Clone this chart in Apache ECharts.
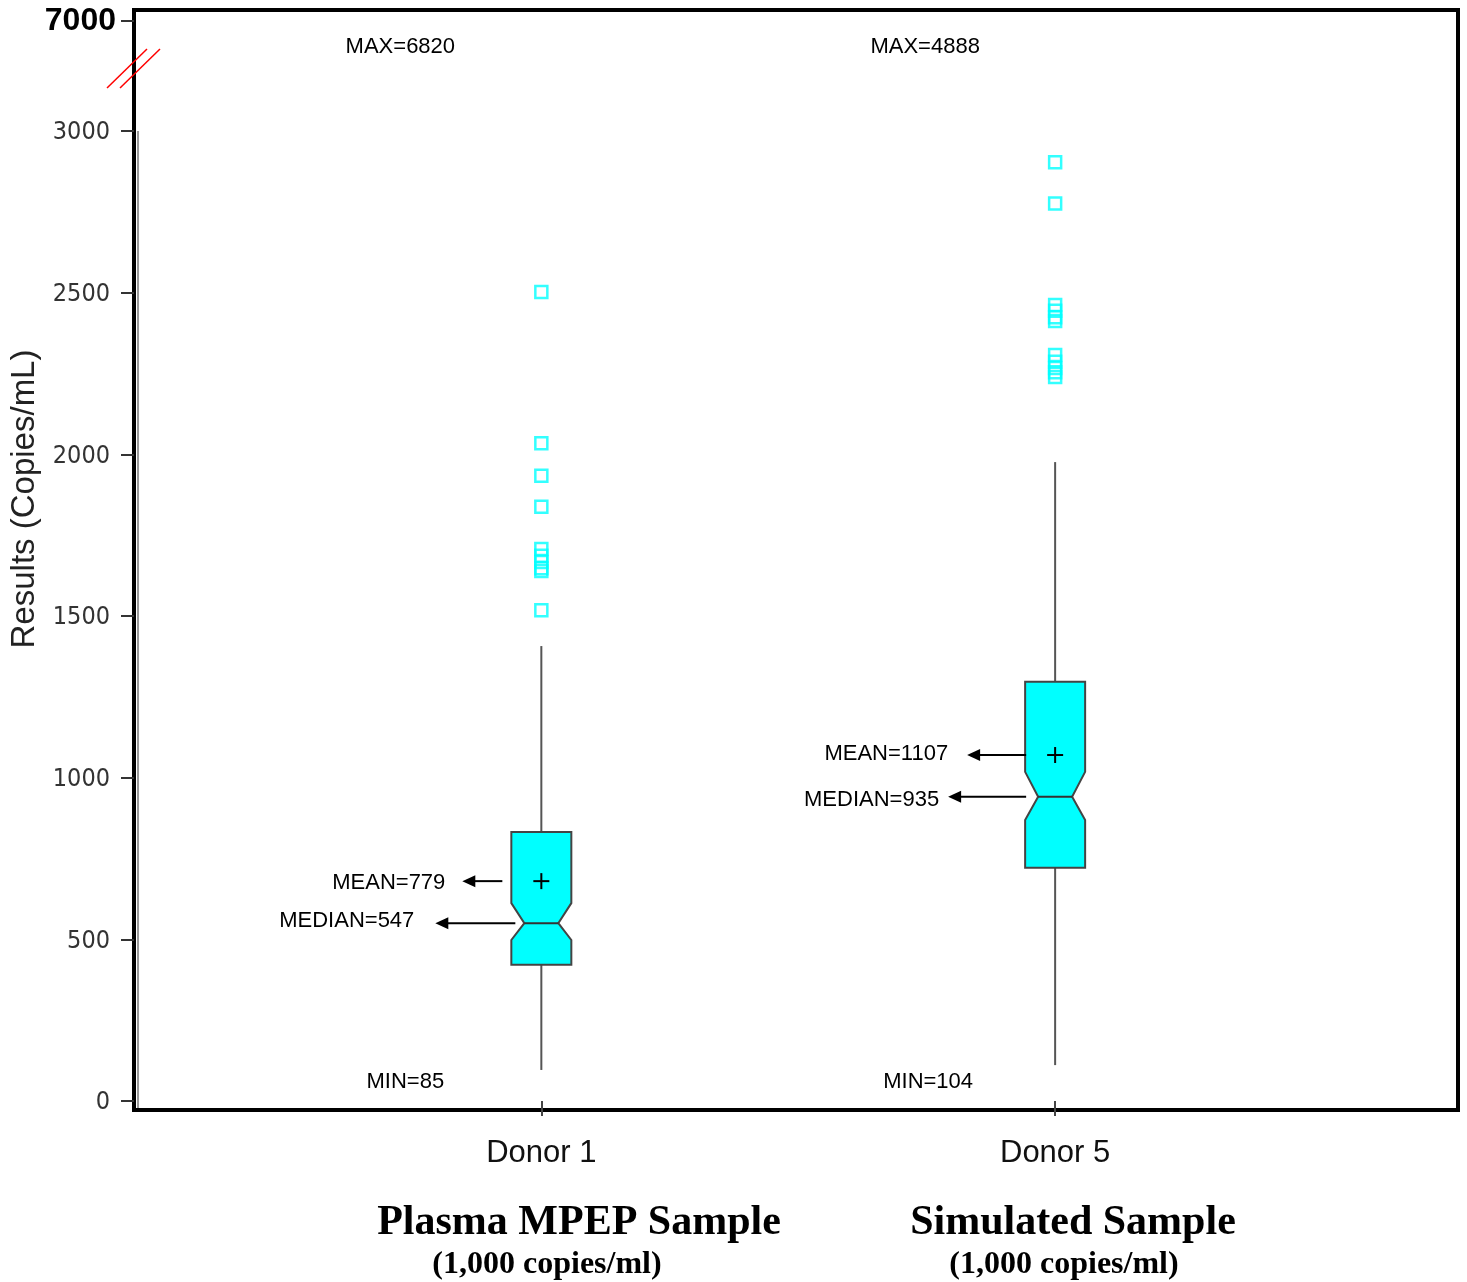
<!DOCTYPE html>
<html><head><meta charset="utf-8">
<script src="https://cdn.jsdelivr.net/npm/echarts@6/dist/echarts.min.js"></script>
<style>html,body{margin:0;padding:0;background:#fff}#c{width:1467px;height:1282px}</style>
</head><body><div id="c"></div>
<script>
// ---- data ----
const categories = ['Donor 1', 'Donor 5'];
const categoryPos = [1, 2];
const whiskerLow = [96, 111];
const q1 = [421, 721];
const median = [550, 941];
const q3 = [832, 1297];
const whiskerHigh = [1407, 1976];
const notchLow = [498, 869];
const notchHigh = [612, 1018];
const meanMark = [680, 1070];
const outliersDonor1 = [2502, 2034, 1934, 1838, 1707, 1686, 1667, 1648, 1639, 1518];
const outliersDonor5 = [2903, 2776, 2462, 2444, 2424, 2412, 2307, 2286, 2267, 2254, 2239];
const meanLabels = ['MEAN=779', 'MEAN=1107'];
const medianLabels = ['MEDIAN=547', 'MEDIAN=935'];
const maxLabels = ['MAX=6820', 'MAX=4888'];
const minLabels = ['MIN=85', 'MIN=104'];
const yTicks = [0, 500, 1000, 1500, 2000, 2500, 3000];
const breakTickValue = 3340;
const breakTickLabel = '7000';
const sampleTitles = ['Plasma MPEP Sample', 'Simulated Sample'];
const sampleSubtitles = ['(1,000 copies/ml)', '(1,000 copies/ml)'];
const yAxisTitle = 'Results (Copies/mL)';

// ---- layout (pixels / styles) ----
const annot = [
  {maxDx: -141, minDx: -136, meanStart: -39, meanTip: -79, meanGap: 17, meanDy: 2,
   medStart: -26, medTip: -106, medGap: 21, medDy: -2},
  {maxDx: -130, minDx: -127, meanStart: -29, meanTip: -88, meanGap: 19, meanDy: -1,
   medStart: -29, medTip: -107, medGap: 9, medDy: 3}
];
const annotFont = '22px "Liberation Sans", Arial, sans-serif';

const boxData = categoryPos.map((x, i) => [x, whiskerLow[i], q1[i], median[i], q3[i], whiskerHigh[i], notchLow[i], notchHigh[i], meanMark[i]]);
const outlierData = outliersDonor1.map(v => [categoryPos[0], v]).concat(outliersDonor5.map(v => [categoryPos[1], v]));

function arrow(tipX, startX, y) {
  return [
    {type: 'line', shape: {x1: startX, y1: y, x2: tipX + 10, y2: y}, style: {stroke: '#000', lineWidth: 2}},
    {type: 'polygon', shape: {points: [[tipX, y], [tipX + 13, y - 6], [tipX + 13, y + 6]]}, style: {fill: '#000'}}
  ];
}

function renderBox(params, api) {
  const i = params.dataIndex;
  const x = api.value(0);
  const py = v => api.coord([x, v])[1];
  const cx = api.coord([x, 0])[0];
  const yW0 = py(api.value(1)), yQ1 = py(api.value(2)), yMed = py(api.value(3)),
        yQ3 = py(api.value(4)), yW1 = py(api.value(5)), yN0 = py(api.value(6)),
        yN1 = py(api.value(7)), yMean = py(api.value(8));
  const hw = 30, ins = 13;
  const L = cx - hw, R = cx + hw;
  const a = annot[i];
  const children = [
    {type: 'line', shape: {x1: cx, y1: yQ3, x2: cx, y2: yW1}, style: {stroke: '#555', lineWidth: 2}},
    {type: 'line', shape: {x1: cx, y1: yQ1, x2: cx, y2: yW0}, style: {stroke: '#555', lineWidth: 2}},
    {type: 'polygon', shape: {points: [
      [L, yQ3], [R, yQ3], [R, yN1], [R - ins, yMed], [R, yN0], [R, yQ1],
      [L, yQ1], [L, yN0], [L + ins, yMed], [L, yN1]]},
      style: {fill: '#00FFFF', stroke: '#444', lineWidth: 2}},
    {type: 'line', shape: {x1: L + ins, y1: yMed, x2: R - ins, y2: yMed}, style: {stroke: '#333', lineWidth: 2}},
    {type: 'line', shape: {x1: cx - 8, y1: yMean, x2: cx + 8, y2: yMean}, style: {stroke: '#000', lineWidth: 2}},
    {type: 'line', shape: {x1: cx, y1: yMean - 8, x2: cx, y2: yMean + 8}, style: {stroke: '#000', lineWidth: 2}}
  ];
  children.push(...arrow(cx + a.meanTip, cx + a.meanStart, yMean));
  children.push(...arrow(cx + a.medTip, cx + a.medStart, yMed));
  children.push({type: 'text', style: {text: meanLabels[i], x: cx + a.meanTip - a.meanGap, y: yMean + a.meanDy,
    align: 'right', verticalAlign: 'middle', font: annotFont, fill: '#000'}});
  children.push({type: 'text', style: {text: medianLabels[i], x: cx + a.medTip - a.medGap, y: yMed + a.medDy,
    align: 'right', verticalAlign: 'middle', font: annotFont, fill: '#000'}});
  children.push({type: 'text', style: {text: maxLabels[i], x: cx + a.maxDx, y: py(3260),
    align: 'center', verticalAlign: 'middle', font: annotFont, fill: '#000'}});
  children.push({type: 'text', style: {text: minLabels[i], x: cx + a.minDx, y: py(60),
    align: 'center', verticalAlign: 'middle', font: annotFont, fill: '#000'}});
  return {type: 'group', children};
}

const chart = echarts.init(document.getElementById('c'), null, {renderer: 'canvas'});
const yLabelValues = yTicks.concat([breakTickValue]);
chart.setOption({
  animation: false,
  backgroundColor: '#fff',
  grid: {left: 134, right: 9, top: 10, bottom: 172, show: true, borderColor: '#000', borderWidth: 4, backgroundColor: 'transparent'},
  xAxis: {
    type: 'value', min: 0.2072, max: 2.7841,
    axisLine: {show: false},
    splitLine: {show: false},
    axisTick: {show: true, customValues: categoryPos, length: 15, lineStyle: {color: '#444', width: 2}},
    axisLabel: {customValues: categoryPos, margin: 28,
      formatter: v => categories[categoryPos.indexOf(Math.round(v))] || '',
      fontFamily: '"Liberation Sans", Arial, sans-serif', fontSize: 31, color: '#111'}
  },
  yAxis: {
    type: 'value', min: -27.84, max: 3374.2,
    axisLine: {show: false},
    splitLine: {show: false},
    axisTick: {show: true, customValues: yLabelValues, length: 13, lineStyle: {color: '#333', width: 2}},
    axisLabel: {customValues: yLabelValues, margin: 18,
      formatter: v => v > 3100 ? '{b|' + breakTickLabel + '}' : '{n|' + Math.round(v) + '}',
      rich: {
        n: {fontFamily: '"Liberation Sans Narrow", "Arial Narrow", "DejaVu Sans Condensed", sans-serif', fontSize: 25, color: '#333', padding: [4, 6, 0, 0]},
        b: {fontFamily: '"Liberation Sans", Arial, sans-serif', fontWeight: 'bold', fontSize: 32, color: '#000'}
      }}
  },
  series: [
    {type: 'custom', clip: false, renderItem: renderBox, data: boxData, z: 3},
    {type: 'scatter', data: outlierData, symbol: 'rect', symbolSize: 12, z: 4,
      itemStyle: {color: 'rgba(0,0,0,0)', borderColor: '#00FFFF', borderWidth: 2.5}}
  ],
  graphic: [
    {type: 'text', x: 25, y: 499, rotation: Math.PI / 2, style: {text: yAxisTitle, align: 'center', verticalAlign: 'middle',
      font: '33px "Liberation Sans", Arial, sans-serif', fill: '#222'}},
    {type: 'line', shape: {x1: 107, y1: 88, x2: 147, y2: 49}, style: {stroke: '#ff0000', lineWidth: 1.5}},
    {type: 'line', shape: {x1: 120, y1: 88, x2: 160, y2: 49}, style: {stroke: '#ff0000', lineWidth: 1.5}},
    {type: 'line', shape: {x1: 138, y1: 131, x2: 138, y2: 1108}, style: {stroke: '#999', lineWidth: 2}},
    {type: 'text', x: 579, y: 1223, style: {text: sampleTitles[0], align: 'center', verticalAlign: 'middle',
      font: 'bold 42px "Liberation Serif", "Times New Roman", serif', fill: '#000'}},
    {type: 'text', x: 547, y: 1265, style: {text: sampleSubtitles[0], align: 'center', verticalAlign: 'middle',
      font: 'bold 32px "Liberation Serif", "Times New Roman", serif', fill: '#000'}},
    {type: 'text', x: 1073, y: 1223, style: {text: sampleTitles[1], align: 'center', verticalAlign: 'middle',
      font: 'bold 42px "Liberation Serif", "Times New Roman", serif', fill: '#000'}},
    {type: 'text', x: 1064, y: 1265, style: {text: sampleSubtitles[1], align: 'center', verticalAlign: 'middle',
      font: 'bold 32px "Liberation Serif", "Times New Roman", serif', fill: '#000'}}
  ]
});
</script></body></html>
